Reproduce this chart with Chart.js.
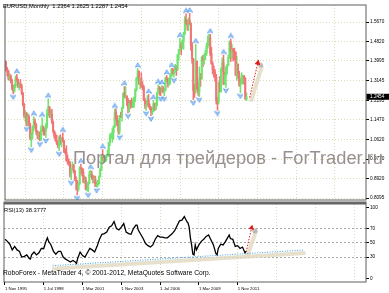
<!DOCTYPE html>
<html><head><meta charset="utf-8">
<script src="https://cdn.jsdelivr.net/npm/chart.js@4.4.1/dist/chart.umd.min.js"></script>
<style>
html,body{margin:0;padding:0;background:#fff;overflow:hidden;}
#c1{position:absolute;left:0;top:0;}
#c2{position:absolute;left:0;top:200px;}
</style></head><body>
<canvas id="c1" width="389" height="205"></canvas>
<canvas id="c2" width="389" height="93"></canvas>
<script>
// ---- EURUSD monthly, Nov 1995 (index 0) .. Jun 2012 (index 199) ----
const open = [
1.395,1.365,
1.355,1.325,1.335,1.318,1.282,1.270,1.292,1.328,1.318,1.292,1.298,1.292,
1.262,1.212,1.165,1.170,1.128,1.160,1.128,1.068,1.085,1.115,1.140,1.125,
1.095,1.080,1.090,1.062,1.105,1.115,1.100,1.098,1.118,1.175,1.200,1.165,
1.172,1.139,1.098,1.076,1.058,1.043,1.035,1.070,1.058,1.068,1.055,1.010,
1.007,0.972,0.965,0.958,0.912,0.935,0.953,0.927,0.887,0.883,0.849,0.872,
0.939,0.935,0.920,0.879,0.888,0.846,0.848,0.876,0.912,0.912,0.902,0.890,
0.890,0.860,0.868,0.872,0.901,0.933,0.987,0.977,0.981,0.987,0.988,0.993,
1.049,1.073,1.078,1.091,1.117,1.180,1.150,1.125,1.097,1.165,1.158,1.199,
1.259,1.246,1.248,1.231,1.197,1.220,1.218,1.203,1.217,1.242,1.276,1.326,
1.356,1.303,1.325,1.296,1.287,1.230,1.209,1.213,1.231,1.202,1.198,1.179,
1.184,1.215,1.192,1.212,1.263,1.281,1.279,1.277,1.281,1.268,1.276,1.325,
1.320,1.303,1.323,1.335,1.365,1.345,1.354,1.369,1.364,1.426,1.449,1.464,
1.459,1.486,1.518,1.579,1.560,1.555,1.575,1.560,1.467,1.410,1.273,1.270,
1.397,1.280,1.266,1.325,1.323,1.415,1.403,1.425,1.433,1.464,1.472,1.500,
1.432,1.387,1.363,1.351,1.330,1.228,1.223,1.305,1.268,1.363,1.392,1.300,
1.338,1.370,1.381,1.416,1.481,1.439,1.450,1.439,1.437,1.339,1.386,1.344,
1.296,1.308,1.333,1.334,1.324,1.2364];
const high = [
1.400,1.372,
1.360,1.345,1.340,1.322,1.295,1.300,1.335,1.342,1.322,1.305,1.320,1.300,
1.265,1.218,1.185,1.178,1.175,1.168,1.132,1.090,1.120,1.160,1.150,1.130,
1.100,1.095,1.095,1.120,1.155,1.120,1.110,1.130,1.190,1.237,1.205,1.190,
1.191,1.142,1.100,1.090,1.080,1.055,1.077,1.082,1.070,1.090,1.058,1.022,
1.035,0.995,0.978,0.968,0.935,0.965,0.954,0.928,0.902,0.885,0.875,0.945,
0.956,0.940,0.935,0.905,0.900,0.870,0.880,0.925,0.930,0.925,0.907,0.905,
0.904,0.878,0.886,0.905,0.938,0.995,1.018,0.990,0.995,0.990,1.015,1.050,
1.085,1.090,1.108,1.120,1.193,1.193,1.165,1.145,1.165,1.180,1.200,1.263,
1.290,1.289,1.250,1.240,1.230,1.230,1.240,1.233,1.245,1.280,1.330,1.367,
1.357,1.325,1.349,1.310,1.295,1.240,1.230,1.250,1.255,1.215,1.203,1.200,
1.230,1.218,1.220,1.265,1.297,1.290,1.285,1.294,1.290,1.280,1.330,1.337,
1.327,1.325,1.341,1.368,1.368,1.355,1.385,1.380,1.427,1.450,1.497,1.478,
1.491,1.523,1.590,1.602,1.576,1.585,1.604,1.562,1.480,1.410,1.300,1.472,
1.400,1.305,1.374,1.346,1.418,1.424,1.430,1.445,1.477,1.508,1.514,1.5145,
1.458,1.396,1.378,1.362,1.342,1.243,1.310,1.333,1.370,1.413,1.425,1.350,
1.375,1.386,1.425,1.486,1.494,1.470,1.454,1.455,1.439,1.420,1.386,1.355,
1.323,1.349,1.339,1.338,1.328,1.2625];
const low = [
1.355,1.335,
1.318,1.315,1.305,1.275,1.258,1.265,1.285,1.310,1.285,1.275,1.285,1.255,
1.205,1.155,1.140,1.120,1.120,1.120,1.060,1.030,1.065,1.100,1.110,1.085,
1.065,1.060,1.055,1.058,1.095,1.080,1.080,1.070,1.110,1.165,1.155,1.155,
1.130,1.090,1.068,1.054,1.040,1.025,1.013,1.040,1.030,1.050,1.005,1.000,
0.968,0.955,0.950,0.900,0.888,0.930,0.918,0.885,0.845,0.823,0.840,0.868,
0.914,0.905,0.875,0.873,0.845,0.840,0.836,0.870,0.900,0.890,0.875,0.874,
0.859,0.856,0.860,0.868,0.900,0.928,0.968,0.962,0.965,0.968,0.986,0.990,
1.035,1.065,1.050,1.063,1.113,1.142,1.120,1.085,1.084,1.155,1.140,1.195,
1.240,1.240,1.208,1.176,1.180,1.195,1.200,1.198,1.200,1.225,1.270,1.320,
1.297,1.280,1.285,1.275,1.230,1.195,1.187,1.208,1.200,1.190,1.164,1.168,
1.180,1.185,1.190,1.205,1.262,1.252,1.250,1.265,1.262,1.250,1.270,1.310,
1.287,1.294,1.300,1.333,1.341,1.330,1.350,1.337,1.358,1.405,1.441,1.425,
1.451,1.450,1.513,1.553,1.532,1.530,1.555,1.445,1.390,1.233,1.242,1.260,
1.277,1.251,1.246,1.290,1.320,1.375,1.385,1.405,1.423,1.455,1.470,1.421,
1.385,1.343,1.330,1.311,1.214,1.188,1.215,1.266,1.265,1.355,1.297,1.297,
1.286,1.343,1.380,1.411,1.397,1.407,1.399,1.405,1.337,1.316,1.327,1.290,
1.262,1.302,1.300,1.300,1.234,1.2287];
const close = [
1.365,1.355,
1.325,1.335,1.318,1.282,1.270,1.292,1.328,1.318,1.292,1.298,1.292,1.262,
1.212,1.165,1.170,1.128,1.160,1.128,1.068,1.085,1.115,1.140,1.125,1.095,
1.080,1.090,1.062,1.105,1.115,1.100,1.098,1.118,1.175,1.200,1.165,1.172,
1.139,1.098,1.076,1.058,1.043,1.035,1.070,1.058,1.068,1.055,1.010,1.007,
0.972,0.965,0.958,0.912,0.935,0.953,0.927,0.887,0.883,0.849,0.872,0.939,
0.935,0.920,0.879,0.888,0.846,0.848,0.876,0.912,0.912,0.902,0.890,0.890,
0.860,0.868,0.872,0.901,0.933,0.987,0.977,0.981,0.987,0.988,0.993,1.049,
1.073,1.078,1.091,1.117,1.180,1.150,1.125,1.097,1.165,1.158,1.199,1.259,
1.246,1.248,1.231,1.197,1.220,1.218,1.203,1.217,1.242,1.276,1.326,1.356,
1.303,1.325,1.296,1.287,1.230,1.209,1.213,1.231,1.202,1.198,1.179,1.184,
1.215,1.192,1.212,1.263,1.281,1.279,1.277,1.281,1.268,1.276,1.325,1.320,
1.303,1.323,1.335,1.365,1.345,1.354,1.369,1.364,1.426,1.449,1.464,1.459,
1.486,1.518,1.579,1.560,1.555,1.575,1.560,1.467,1.410,1.273,1.270,1.397,
1.280,1.266,1.325,1.323,1.415,1.403,1.425,1.433,1.464,1.472,1.500,1.432,
1.387,1.363,1.351,1.330,1.228,1.223,1.305,1.268,1.363,1.392,1.300,1.338,
1.370,1.381,1.416,1.481,1.439,1.450,1.439,1.437,1.339,1.386,1.344,1.296,
1.308,1.333,1.334,1.324,1.2364,1.2454];

// RSI(13) (month index -> value)
const rsiMonths = [0,2,4,6,8,10,12,13,14,16,18,20,21,22,24,26,28,30,32,34,35,36,38,40,42,44,46,48,50,52,54,56,58,59,60,62,64,66,68,70,72,74,76,78,80,82,84,86,88,90,92,94,96,98,100,102,104,106,108,109,110,112,114,116,118,120,122,124,126,128,130,132,134,136,138,140,142,144,146,148,150,151,152,153,154,155,156,157,158,160,162,164,166,168,170,172,174,175,176,178,180,182,184,185,186,188,190,192,194,196,198,199];
const rsiValues = [55,52,48,40,45,40,38,33,30,31,33,28,27,33,37,33,36,42,42,53,57,52,47,38,34,38,38,30,27,25,23,25,23,21,28,37,32,30,36,42,40,37,45,55,62,63,65,72,74,80,70,68,72,77,65,63,62,70,75,75,68,62,56,49,46,44,47,55,60,58,58,57,57,60,63,67,74,81,82,87,80,78,72,57,47,34,33,47,40,47,52,55,59,61,54,47,35,33,42,48,47,52,58,61,56,55,45,46,42,44,36,38.38];

// axes
const priceTicks = [1.5670,1.4820,1.3995,1.3145,1.2295,1.1470,1.0620,0.9770,0.8920,0.8095];
const rsiTicks = [0,30,50,70,100];
const gridMonths = [0,32,64,96,128,160,192,224,256,288];
const dateTickMonths = [0,32,64,96,128,160,192];
const dateTickLabels = ['1 Nov 1995','1 Jul 1998','1 Mar 2001','1 Nov 2003','1 Jul 2006','1 Mar 2009','1 Nov 2011'];

// drawn objects (data units)
const arrowMainX = [201.6, 208.4], arrowMainY = [1.242, 1.391];
const arrowBandMainX = [203, 211.7], arrowBandMainY = [1.231, 1.3745];
const shadowMainX = [210.6], shadowMainY = [1.382];
const rsiTrendX = [39.3, 246.6], rsiTrendY = [17.7, 39.9];
const rsiBandX = [39, 248], rsiBandY = [13.5, 35.5];
const arrowRsiX = [199, 203.5], arrowRsiY = [37, 71];
const arrowBandRsiX = [200.2, 207], arrowBandRsiY = [32.8, 65.6];
const shadowRsiX = [206.2], shadowRsiY = [67];

const titleText = 'EURUSD,Monthly  1.2364 1.2625 1.2287 1.2454';
const rsiText = 'RSI(13) 38.3777';
const copyText = 'RoboForex - MetaTrader 4, \u00A9 2001-2012, MetaQuotes Software Corp.';
const watermark = 'Портал для трейдеров - ForTrader.ru';

// ---- styling ----
const FONT = '"Liberation Sans", Arial, sans-serif';
Chart.defaults.font.family = FONT;
const UP = '#6fe46f', DOWN = '#f37474';
const GRID = 'rgba(208,212,165,0.8)';
const CLEAR = 'rgba(0,0,0,0)';
const xMin = -0.8, xMax = 297.9;
const yMin = 0.8013, yMax = 1.6402;
const rsiMin = -5.21, rsiMax = 104.65;

const pts = (xs, ys) => xs.map((x, k) => ({x, y: ys[k]}));
const colorOf = c => close[c.dataIndex] >= open[c.dataIndex] ? UP : DOWN;

function makeArrow(up) {
  const c = document.createElement('canvas'); c.width = 6; c.height = 13;
  const g = c.getContext('2d');
  if (!up) { g.translate(0, 13); g.scale(1, -1); }
  g.beginPath();
  g.moveTo(3, 0.8); g.lineTo(5.6, 5.3); g.lineTo(3, 4.0); g.lineTo(0.4, 5.3); g.closePath();
  g.fillStyle = '#aed3fa'; g.fill();
  g.strokeStyle = '#4a8fe8'; g.lineWidth = 0.7; g.stroke();
  return c;
}
const upArrow = makeArrow(true), dnArrow = makeArrow(false);

const upFr = [], dnFr = [];
for (let i = 2; i < high.length - 2; i++) {
  if (high[i] > high[i-1] && high[i] > high[i-2] && high[i] >= high[i+1] && high[i] >= high[i+2]) upFr.push({x: i, y: high[i]});
  if (low[i] < low[i-1] && low[i] < low[i-2] && low[i] <= low[i+1] && low[i] <= low[i+2]) dnFr.push({x: i, y: low[i]});
}

function fitFont(ctx, text, target) {
  ctx.font = '10px ' + FONT;
  return 10 * target / ctx.measureText(text).width;
}

const mainDeco = {
  id: 'mainDeco',
  afterDraw(chart) {
    const ctx = chart.ctx, a = chart.chartArea;
    ctx.save();
    ctx.strokeStyle = '#5f5f5f'; ctx.lineWidth = 1;
    ctx.strokeRect(a.left, a.top, a.right - a.left, a.bottom - a.top);
    ctx.fillStyle = '#000'; ctx.textBaseline = 'middle'; ctx.textAlign = 'left';
    ctx.font = fitFont(ctx, titleText, 125) + 'px ' + FONT;
    ctx.fillText(titleText, 3, 6.4);
    const yp = chart.scales.y.getPixelForValue(close[close.length - 1]);
    ctx.fillStyle = '#000';
    ctx.fillRect(a.right + 0.5, yp - 3, 389 - a.right, 6);
    ctx.fillStyle = '#fff'; ctx.font = '4.7px ' + FONT;
    ctx.fillText(close[close.length - 1].toFixed(4), a.right + 4, yp + 0.2);
    ctx.fillStyle = 'rgba(140,128,128,0.88)'; ctx.textBaseline = 'alphabetic';
    ctx.font = fitFont(ctx, watermark, 310) + 'px ' + FONT;
    ctx.fillText(watermark, 73, 163.5);
    ctx.restore();
  }
};

new Chart(document.getElementById('c1'), {
  type: 'bar',
  data: { datasets: [
    {type: 'line', data: pts(arrowBandMainX, arrowBandMainY), borderColor: 'rgba(224,216,192,0.8)', borderWidth: 4, borderCapStyle: 'round', pointRadius: 0, order: 9},
    {type: 'bar', data: close.map((c, i) => ({x: i, y: [low[i], high[i]]})), backgroundColor: colorOf, barThickness: 0.9, grouped: false, order: 8},
    {type: 'bar', data: close.map((c, i) => ({x: i, y: [open[i], c]})), backgroundColor: colorOf, barThickness: 1.4, minBarLength: 1, grouped: false, order: 7},
    {type: 'line', data: upFr, showLine: false, pointStyle: upArrow, pointRadius: 3, order: 5},
    {type: 'line', data: dnFr, showLine: false, pointStyle: dnArrow, pointRadius: 3, order: 5},
    {type: 'line', data: pts(shadowMainX, shadowMainY), showLine: false, pointRadius: 2.6, pointBackgroundColor: 'rgba(150,150,150,0.55)', pointBorderWidth: 0, order: 4},
    {type: 'line', data: pts(arrowMainX, arrowMainY), borderColor: '#e01c1c', borderWidth: 1, borderDash: [1.5, 1.5], pointRadius: [0, 3.4], pointStyle: 'triangle', pointRotation: 13, pointBackgroundColor: '#e01c1c', pointBorderColor: '#e01c1c', pointBorderWidth: 0, order: 2}
  ]},
  options: {
    responsive: false, animation: false, devicePixelRatio: 1,
    layout: {padding: {left: 1.5, top: 1.5, right: 0, bottom: 3}},
    plugins: {legend: {display: false}, tooltip: {enabled: false}},
    scales: {
      x: {type: 'linear', min: xMin, max: xMax, offset: false,
        afterBuildTicks: s => { s.ticks = gridMonths.map(v => ({value: v})); },
        ticks: {display: false},
        grid: {color: c => (c.tick && c.tick.value === 0) ? CLEAR : GRID, drawTicks: false},
        border: {display: false, dash: [1, 2]},
        afterFit: s => { s.height = 0; s.paddingLeft = 0; s.paddingRight = 0; }
      },
      y: {position: 'right', min: yMin, max: yMax,
        afterBuildTicks: s => { s.ticks = priceTicks.map(v => ({value: v})); },
        ticks: {callback: v => v.toFixed(4), font: {size: 4.7}, color: '#000', padding: 1, autoSkip: false},
        grid: {color: GRID, tickColor: '#000', tickLength: 3, tickBorderDash: []},
        border: {display: false, dash: [1, 2]},
        afterFit: s => { s.width = 23; s.paddingTop = 0; s.paddingBottom = 0; }
      }
    }
  },
  plugins: [mainDeco]
});

const rsiDeco = {
  id: 'rsiDeco',
  afterDraw(chart) {
    const ctx = chart.ctx, a = chart.chartArea;
    ctx.save();
    ctx.fillStyle = '#6a6a6a';
    ctx.fillRect(a.left - 0.5, 1.5, a.right - a.left + 1, 2.5);
    ctx.strokeStyle = '#5f5f5f'; ctx.lineWidth = 1;
    ctx.strokeRect(a.left, a.top, a.right - a.left, a.bottom - a.top);
    ctx.fillStyle = '#000'; ctx.textBaseline = 'middle'; ctx.textAlign = 'left';
    ctx.font = fitFont(ctx, titleText, 125) + 'px ' + FONT;
    ctx.fillText(rsiText, 4, 10.5);
    ctx.font = fitFont(ctx, copyText, 208) + 'px ' + FONT;
    ctx.fillText(copyText, 3, 73.6);
    ctx.restore();
  }
};

new Chart(document.getElementById('c2'), {
  type: 'line',
  data: { datasets: [
    {data: pts(rsiBandX, rsiBandY), borderColor: 'rgba(224,216,192,0.8)', borderWidth: 4, pointRadius: 0, order: 9},
    {data: pts(arrowBandRsiX, arrowBandRsiY), borderColor: 'rgba(224,216,192,0.8)', borderWidth: 4, borderCapStyle: 'round', pointRadius: 0, order: 9},
    {data: pts(rsiTrendX, rsiTrendY), borderColor: '#3fa5e4', borderWidth: 1, borderDash: [1, 1.5], pointRadius: 0, order: 6},
    {data: rsiMonths.map((m, k) => ({x: m, y: rsiValues[k]})), borderColor: '#000', borderWidth: 1.3, pointRadius: 0, order: 3},
    {data: pts(shadowRsiX, shadowRsiY), showLine: false, pointRadius: 2.6, pointBackgroundColor: 'rgba(150,150,150,0.55)', pointBorderWidth: 0, order: 4},
    {data: pts(arrowRsiX, arrowRsiY), borderColor: '#e01c1c', borderWidth: 1, borderDash: [1.5, 1.5], pointRadius: [0, 3.2], pointStyle: 'triangle', pointRotation: 13, pointBackgroundColor: '#e01c1c', pointBorderColor: '#e01c1c', pointBorderWidth: 0, order: 2}
  ]},
  options: {
    responsive: false, animation: false, devicePixelRatio: 1,
    layout: {padding: {left: 1.5, top: 4, right: 0, bottom: 0}},
    plugins: {legend: {display: false}, tooltip: {enabled: false}},
    scales: {
      x: {type: 'linear', min: xMin, max: xMax, offset: false,
        afterBuildTicks: s => { s.ticks = gridMonths.map(v => ({value: v})); },
        ticks: {autoSkip: false, maxRotation: 0, minRotation: 0, align: 'start', padding: 1, font: {size: 4.3}, color: '#000',
          callback: v => { const k = dateTickMonths.indexOf(v); return k < 0 ? '' : dateTickLabels[k]; }},
        grid: {color: c => (c.tick && c.tick.value === 0) ? CLEAR : GRID,
               tickColor: c => (c.tick && dateTickMonths.includes(c.tick.value)) ? '#000' : CLEAR,
               tickLength: 3, tickBorderDash: []},
        border: {display: false, dash: [1, 2]},
        afterFit: s => { s.height = 11; s.paddingLeft = 0; s.paddingRight = 0; }
      },
      y: {position: 'right', min: rsiMin, max: rsiMax,
        afterBuildTicks: s => { s.ticks = rsiTicks.map(v => ({value: v})); },
        ticks: {font: {size: 4.7}, color: '#000', padding: 1, autoSkip: false},
        grid: {color: c => (c.tick && [30, 50, 70].includes(c.tick.value)) ? '#a9a9a9' : CLEAR, tickColor: '#000', tickLength: 3, tickBorderDash: []},
        border: {display: false, dash: [2, 2]},
        afterFit: s => { s.width = 23; s.paddingTop = 0; s.paddingBottom = 0; }
      }
    }
  },
  plugins: [rsiDeco]
});
</script></body></html>
